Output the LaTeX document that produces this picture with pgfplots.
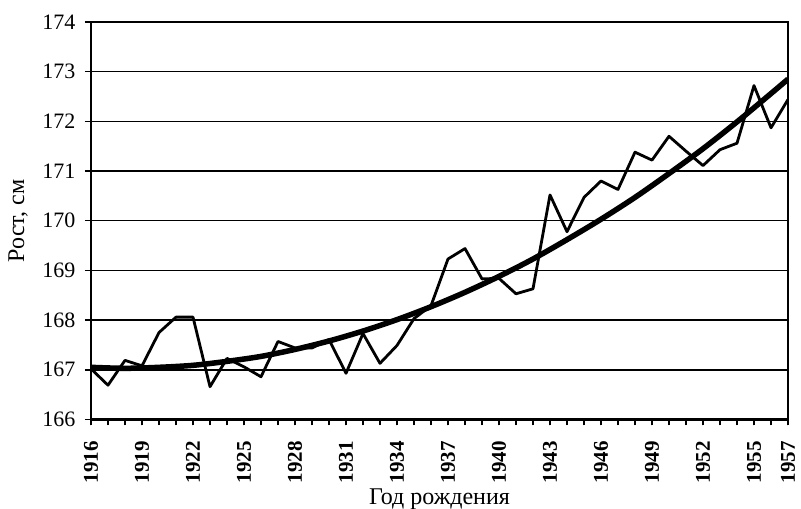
\documentclass[border=0pt]{standalone}
\usepackage{fontspec}
\setmainfont{Liberation Serif}
\usepackage{pgfplots}
\pgfplotsset{compat=1.18}
\begin{document}
\begin{tikzpicture}
\begin{axis}[
  scale only axis,
  width=697pt, height=397.5pt,
  xmin=1916, xmax=1957, ymin=166, ymax=174,
  xtick={1916,1919,1922,1925,1928,1931,1934,1937,1940,1943,1946,1949,1952,1955,1957},
  minor xtick={1916,1917,...,1957},
  ytick={166,167,...,174},
  ymajorgrids,
  major grid style={black, line width=1.5pt},
  axis line style={line width=2.6pt},
  every tick/.style={black, line width=1.4pt},
  tick align=outside,
  major tick length=6pt, minor tick length=6pt,
  tick pos=left,
  /pgf/number format/1000 sep={},
  /pgf/number format/assume math mode=true,
  x tick label style={rotate=90, anchor=east, font=\fontsize{21}{21}\selectfont\bfseries, xshift=-12pt},
  y tick label style={font=\fontsize{22}{22}\selectfont, xshift=-6pt},
  xlabel={Год рождения},
  ylabel={Рост, см},
  label style={font=\fontsize{24}{24}\selectfont},
  xlabel style={at={(axis description cs:0.5,0)}, anchor=base, yshift=-85.5pt},
  ylabel style={at={(axis description cs:0,0.5)}, anchor=center, yshift=73pt},
]
\addplot[black, line width=2.8pt, line join=round] coordinates {
(1916,167.02) (1917,166.69) (1918,167.19) (1919,167.08) (1920,167.75)
(1921,168.06) (1922,168.06) (1923,166.66) (1924,167.23) (1925,167.06)
(1926,166.86) (1927,167.57) (1928,167.44) (1929,167.44) (1930,167.61)
(1931,166.93) (1932,167.73) (1933,167.13) (1934,167.49) (1935,168.03)
(1936,168.29) (1937,169.23) (1938,169.44) (1939,168.83) (1940,168.84)
(1941,168.53) (1942,168.63) (1943,170.52) (1944,169.78) (1945,170.47)
(1946,170.80) (1947,170.63) (1948,171.38) (1949,171.22) (1950,171.70)
(1951,171.40) (1952,171.11) (1953,171.43) (1954,171.56) (1955,172.72)
(1956,171.87) (1957,172.44)
};
\addplot[black, line width=5.5pt, smooth] coordinates {
(1916,167.05) (1918,167.03) (1920,167.05) (1922,167.09) (1924,167.17)
(1926,167.27) (1928,167.41) (1930,167.58) (1932,167.78) (1934,168.01)
(1936,168.27) (1938,168.56) (1940,168.88) (1942,169.23) (1944,169.62)
(1946,170.03) (1948,170.47) (1950,170.95) (1952,171.45) (1954,171.99)
(1956,172.56) (1957,172.85)
};
\end{axis}
\pgfresetboundingbox
\path ([shift={(-91pt,-89.5pt)}]current axis.south west) rectangle ([shift={(13pt,22pt)}]current axis.north east);
\end{tikzpicture}
\end{document}
